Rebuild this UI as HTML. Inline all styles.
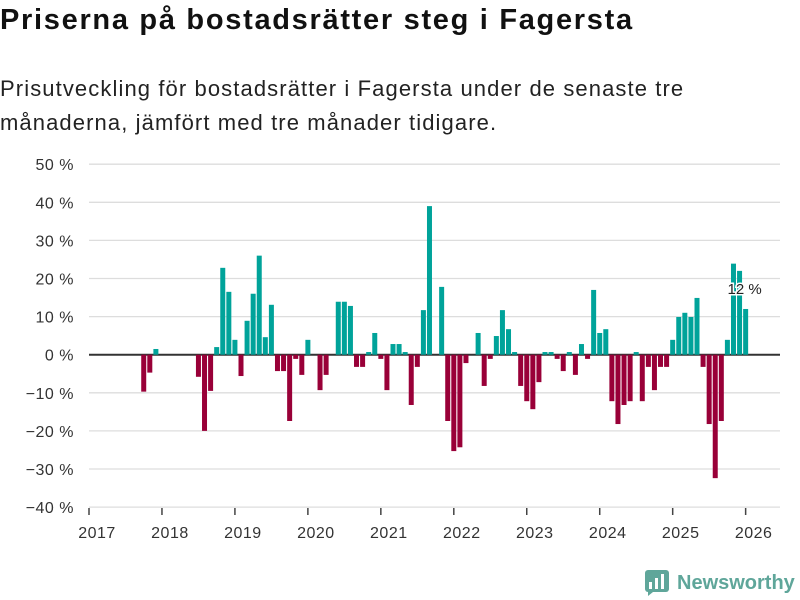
<!DOCTYPE html>
<html><head><meta charset="utf-8"><style>
body{margin:0;width:800px;height:600px;background:#fff;font-family:"Liberation Sans","DejaVu Sans",sans-serif;overflow:hidden;position:relative}
h1{position:absolute;left:0;top:4px;margin:0;font-size:29px;font-weight:bold;color:#111;letter-spacing:1.7px;white-space:nowrap}
p{position:absolute;left:0;top:72px;margin:0;font-size:22px;line-height:34px;color:#222;width:700px;letter-spacing:1.1px}
</style></head><body>
<h1>Priserna på bostadsrätter steg i Fagersta</h1>
<p>Prisutveckling för bostadsrätter i Fagersta under de senaste tre<br>månaderna, jämfört med tre månader tidigare.</p>
<svg id="c" width="800" height="600" style="position:absolute;left:0;top:0"></svg>
<div style="position:absolute;left:645px;top:570px;display:flex;align-items:center">
<svg width="24" height="26"><rect x="0" y="0" width="24" height="22" rx="3" fill="#5fa69a"/><rect x="4" y="12" width="3" height="7" fill="#fff"/><rect x="10" y="8" width="3" height="11" fill="#fff"/><rect x="16" y="4" width="3" height="15" fill="#fff"/><path d="M3 22 L3 26 L8 22Z" fill="#5fa69a"/></svg>
<span style="margin-left:8px;font-size:20px;font-weight:bold;color:#5fa69a">Newsworthy</span></div>
<script>
const monthIndex=[9,10,11,18,19,20,21,22,23,24,25,26,27,28,29,30,31,32,33,34,35,36,38,39,41,42,43,44,45,46,47,48,49,50,51,52,53,54,55,56,58,59,60,61,62,64,65,66,67,68,69,70,71,72,73,74,75,76,77,78,79,80,81,82,83,84,85,86,87,88,89,90,91,92,93,94,95,96,97,98,99,100,101,102,103,104,105,106,107,108];
const values=[-9.7,-4.7,1.5,-5.8,-20,-9.5,2,22.8,16.5,3.9,-5.6,8.9,16,26,4.6,13.1,-4.3,-4.3,-17.4,-1.1,-5.3,3.9,-9.3,-5.3,13.9,13.9,12.8,-3.2,-3.2,0.7,5.7,-1.1,-9.3,2.8,2.8,0.7,-13.2,-3.2,11.7,39,17.8,-17.4,-25.3,-24.3,-2.2,5.7,-8.2,-1.1,4.9,11.7,6.7,0.7,-8.2,-12.2,-14.3,-7.2,0.7,0.7,-1.1,-4.3,0.7,-5.3,2.8,-1.1,17,5.7,6.7,-12.2,-18.2,-13.2,-12.2,0.7,-12.2,-3.2,-9.3,-3.2,-3.2,3.9,9.9,11,9.9,14.9,-3.2,-18.2,-32.4,-17.4,3.9,23.9,22,12];
const yTicks=[50,40,30,20,10,0,-10,-20,-30,-40];
const xYears=[2017,2018,2019,2020,2021,2022,2023,2024,2025,2026];
const NS="http://www.w3.org/2000/svg",svg=document.getElementById('c');
const y=v=>354.7-v*3.81, x=m=>89+m*6.08;
function mk(t,a){const e=document.createElementNS(NS,t);for(const k in a)e.setAttribute(k,a[k]);svg.appendChild(e);return e;}
yTicks.forEach(t=>{
 const g=mk('line',{x1:89,x2:780,y1:y(t),y2:y(t),stroke:t===0?'#333':'#ddd','stroke-width':t===0?2:1.3});
 
 
 const l=mk('text',{x:74,y:y(t)+6,'text-anchor':'end','font-size':16,fill:'#333','letter-spacing':0.5});
 l.textContent=(t<0?'−':'')+Math.abs(t)+' %';
 
 
});
xYears.forEach((yr,i)=>{
 const tx=x(i*12);
 const tk=mk('line',{x1:tx,x2:tx,y1:508,y2:515,stroke:'#444','stroke-width':1.5});
 
 
 const l=mk('text',{x:tx+8,y:538,'text-anchor':'middle','font-size':16,fill:'#333','letter-spacing':0.5});
 l.textContent=yr;
 
 
});
monthIndex.forEach((m,i)=>{
 const v=values[i],cx=x(m);
 const r=mk('rect',{x:cx-2.5,width:5,y:Math.min(y(v),y(0)),height:Math.abs(y(v)-y(0)),fill:v>=0?'#00a39a':'#990038'});
 
 
});
const last=values.length-1;
const lb=mk('text',{x:x(monthIndex[last])-1,y:y(values[last])-15,'text-anchor':'middle','font-size':15,fill:'#222',stroke:'#fff','stroke-width':3,'paint-order':'stroke'});
lb.textContent=Math.round(values[last])+' %';


</script>
</body></html>
